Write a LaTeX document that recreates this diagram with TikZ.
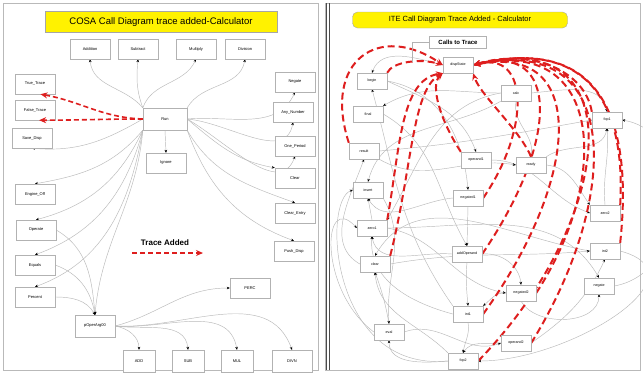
\documentclass[tikz,border=0pt]{standalone}
\usepackage{fontspec}
\setmainfont{Liberation Sans}
\usetikzlibrary{arrows.meta,backgrounds}
\definecolor{tracered}{RGB}{222,30,30}
\definecolor{titleyellow}{RGB}{255,242,0}

\begin{document}
\begin{tikzpicture}[x=1pt,y=-1pt,
    callbox/.style={draw=gray!60,fill=white,minimum width=40pt,minimum height=20pt,inner sep=1pt,font=\fontsize{4}{5}\selectfont},
    itebox/.style={draw=gray!60,fill=white,minimum width=30pt,minimum height=16pt,inner sep=1pt,font=\fontsize{3.6}{4.5}\selectfont},
    calledge/.style={draw=gray!55,line width=.45pt,-{Stealth[length=3pt,width=2.6pt,color=black]}},
    traceedge/.style={draw=tracered,line width=1.6pt,dash pattern=on 5pt off 3pt,-{Stealth[length=7pt,width=6pt]}},
    tracelong/.style={traceedge,line width=2pt,dash pattern=on 7pt off 4pt}]
\useasboundingbox (0,0) rectangle (643,373);

% panels
\begin{scope}[on background layer]
\draw[gray!55,line width=1pt,fill=white] (3,3) rectangle (318,370);
\draw[gray!55,line width=1pt,fill=white] (325,3) rectangle (640,370);
\draw[black!70,line width=.8pt] (326,3) -- (326,370);
\draw[black!70,line width=.8pt] (329,3) -- (329,370);
\end{scope}

%%% COSA call diagram
\node[draw=gray!70,fill=titleyellow,minimum width=232pt,minimum height=21pt,font=\fontsize{9.5}{11}\selectfont] (cosatitle) at (161,22) {COSA Call Diagram trace added-Calculator};

\node[callbox] (addition) at (90,49) {Addition};
\node[callbox] (subtract) at (138,49) {Subtract};
\node[callbox] (multiply) at (196,49) {Multiply};
\node[callbox] (division) at (245,49) {Division};
\node[callbox] (truetrace) at (35,84) {True\_Trace};
\node[callbox] (falsetrace) at (35,110) {False\_Trace};
\node[callbox] (negate) at (295,82) {Negate};
\node[callbox] (anynumber) at (293,112) {Any\_Number};
\node[callbox,minimum width=44pt,minimum height=22pt] (run) at (165,119) {Run};
\node[callbox] (savedisp) at (32,138) {Save\_Disp};
\node[callbox] (ignore) at (166,163) {Ignore};
\node[callbox] (oneperiod) at (295,146) {One\_Period};
\node[callbox] (clear) at (295,178) {Clear};
\node[callbox] (engineoff) at (35,194) {Engine\_Off};
\node[callbox] (clearentry) at (295,213) {Clear\_Entry};
\node[callbox] (operate) at (36,230) {Operate};
\node[callbox] (pushdisp) at (294,251) {Push\_Disp};
\node[callbox] (equals) at (35,265) {Equals};
\node[callbox] (percent) at (35,297) {Percent};
\node[callbox] (perc) at (250,288) {PERC};
\node[callbox,minimum height=22pt] (poper) at (95,326) {pOperArg00};
\node[callbox,minimum width=32pt,minimum height=22pt] (add) at (139,361) {ADD};
\node[callbox,minimum width=32pt,minimum height=22pt] (sub) at (188,361) {SUB};
\node[callbox,minimum width=32pt,minimum height=22pt] (mul) at (237,361) {MUL};
\node[callbox,minimum height=22pt] (divn) at (292,361) {DIVN};

\node[font=\fontsize{8}{9}\selectfont\bfseries] (legend) at (165,243) {Trace Added};
\coordinate (lega) at (132,253);
\coordinate (legb) at (203,253);
\draw[traceedge] (lega) -- (legb);

\begin{scope}[on background layer]
\draw[calledge] (run.north west) to[out=130,in=-85] (addition.south);
\draw[calledge] (run.north west) to[out=110,in=-95] (subtract.south);
\draw[calledge] (run.north west) to[out=70,in=-115] (multiply.south);
\draw[calledge] (run.north east) to[out=60,in=-100] (division.south);
\draw[calledge] (run.east) to[out=5,in=-115] (negate.south);
\draw[calledge] (run.east) to[out=-5,in=-100] (anynumber.south);
\draw[calledge] (run.east) to[out=-30,in=-110] (oneperiod.south);
\draw[calledge] (run.east) to[out=-40,in=170] (clear.north west);
\draw[calledge] (run.south east) to[out=-60,in=160] (clearentry.north);
\draw[calledge] (run.south east) to[out=-70,in=160] (pushdisp.north);
\draw[calledge] (run.south) -- (ignore.north);
\draw[calledge] (run.west) to[out=-150,in=-5] (savedisp.south);
\draw[calledge] (run.south west) to[out=-130,in=10] (engineoff.north);
\draw[calledge] (run.south west) to[out=-115,in=15] (operate.north);
\draw[calledge] (run.south west) to[out=-105,in=20] (equals.north);
\draw[calledge] (run.south west) to[out=-100,in=20] (percent.north);
\draw[calledge] (run.south west) to[out=-95,in=85] (poper.north);
\draw[calledge] (operate.east) to[out=-30,in=95] (poper.north);
\draw[calledge] (equals.east) to[out=-20,in=100] (poper.north);
\draw[calledge] (percent.east) to[out=0,in=120] (poper.north);
\draw[calledge] (poper.east) to[out=15,in=180] (perc.west);
\draw[calledge] (poper.east) to[out=-10,in=90] (add.north);
\draw[calledge] (poper.east) to[out=-8,in=95] (sub.north);
\draw[calledge] (poper.east) to[out=-5,in=100] (mul.north);
\draw[calledge] (poper.east) to[out=-3,in=110] (divn.north);
\end{scope}
\draw[traceedge] (run.west) to[out=178,in=-10] (truetrace.-62);
\draw[traceedge] (run.west) to[out=180,in=0] (falsetrace.-68);

%%% ITE call diagram
\node[draw=gray!70,fill=titleyellow,rounded corners=5pt,minimum width=215pt,minimum height=16pt,font=\fontsize{7.5}{9}\selectfont] (itetitle) at (460,20) {ITE Call Diagram Trace Added - Calculator};
\node[draw=gray!60,fill=white,minimum width=57pt,minimum height=12pt,font=\fontsize{6}{7}\selectfont\bfseries] (calls) at (458,42) {Calls to Trace};
\coordinate (callpt) at (412,62);
\draw[gray!60] (calls.west) -| (callpt);

\node[itebox] (dispstate) at (458,65) {dispState};
\node[itebox] (begin) at (372,81) {begin};
\node[itebox] (final) at (368,114) {final};
\node[itebox] (calc) at (516,93) {calc};
\node[itebox] (fopone) at (607,120) {fop1};
\node[itebox] (result) at (364,151) {result};
\node[itebox] (operandone) at (476,160) {operand1};
\node[itebox] (ready) at (531,165) {ready};
\node[itebox] (insert) at (368,190) {insert};
\node[itebox] (negatedone) at (468,198) {negated1};
\node[itebox] (zeroone) at (372,228) {zero1};
\node[itebox] (zerotwo) at (605,213) {zero2};
\node[itebox] (addoperand) at (467,254) {addOperand};
\node[itebox] (inttwo) at (605,251) {int2};
\node[itebox] (iclear) at (375,264) {clear};
\node[itebox] (inegate) at (599,286) {negate};
\node[itebox] (negatedtwo) at (521,293) {negated2};
\node[itebox] (intone) at (468,314) {int1};
\node[itebox] (eval) at (389,332) {eval};
\node[itebox] (operandtwo) at (516,343) {operand2};
\node[itebox] (foptwo) at (463,361) {fop2};

\begin{scope}[on background layer]
\draw[calledge] (dispstate.west) to[out=165,in=70] (begin.north);
\draw[calledge] (calc.west) to[out=180,in=30] (final.north east);
\draw[calledge] (begin.east) to[out=-10,in=95] (negatedone.north);
\draw[calledge] (intone.north west) to[out=125,in=-75] (begin.south);
\draw[calledge] (iclear.west) to[out=150,in=-110] (result.south);
\draw[calledge] (result.east) to[out=5,in=190] (fopone.west);
\draw[calledge] (calc.south west) to[out=210,in=75] (insert.north);
\draw[calledge] (negatedone.west) to[out=185,in=-60] (insert.south);
\draw[calledge] (zeroone.north) -- (insert.south);
\draw[calledge] (addoperand.west) to[out=175,in=-80] (zeroone.south);
\draw[calledge] (intone.west) to[out=165,in=-95] (zeroone.south);
\draw[calledge] (inttwo.west) to[out=170,in=60] (iclear.north);
\draw[calledge] (eval.north) to[out=100,in=-70] (iclear.south);
\draw[calledge] (foptwo.north west) to[out=135,in=-85] (iclear.south);
\draw[calledge] (insert.south east) to[out=-60,in=95] (eval.north);
\draw[calledge] (foptwo.west) to[out=185,in=-90] (eval.south);
\draw[calledge] (negatedone.south) -- (addoperand.north);
\draw[calledge] (addoperand.south) to[out=-95,in=95] (intone.north);
\draw[calledge] (addoperand.east) to[out=5,in=95] (negatedtwo.north);
\draw[calledge] (negatedtwo.west) to[out=175,in=40] (intone.north east);
\draw[calledge] (intone.south) to[out=-80,in=80] (foptwo.north);
\draw[calledge] (operandtwo.west) to[out=185,in=55] (foptwo.north);
\draw[calledge] (inttwo.east) to[out=-15,in=0,looseness=1.3] (foptwo.east);
\draw[calledge] (operandtwo.east) to[out=35,in=-115] (inttwo.south);
\draw[calledge] (zeroone.east) to[out=0,in=120] (inegate.north);
\draw[calledge] (negatedtwo.south) to[out=-60,in=-90] (inegate.south);
\draw[calledge] (ready.east) to[out=-5,in=125] (zerotwo.north west);
\draw[calledge] (zerotwo.north) to[out=95,in=-85] (fopone.south);
\draw[calledge] (ready.north east) to[out=35,in=-100] (fopone.south);
\draw[calledge] (calc.east) to[out=5,in=100] (fopone.north);
\draw[calledge] (calc.south) to[out=-100,in=80] (ready.north);
\draw[calledge] (begin.east) to[out=-25,in=110] (operandone.north);
\draw[calledge] (final.east) to[out=-30,in=120] (addoperand.north);
\draw[calledge] (eval.west) .. controls (318,290) and (322,190) .. (zeroone.west);
\draw[calledge] (foptwo.west) .. controls (330,372) and (322,200) .. (insert.west);
\draw[calledge] (inegate.east) to[out=10,in=-10,looseness=1.2] (fopone.east);
\draw[calledge] (operandone.east) to[out=0,in=160] (zerotwo.west);
\draw[calledge] (result.south east) to[out=-30,in=170] (ready.west);
\draw[calledge] (iclear.east) to[out=10,in=185] (inttwo.west);
\draw[calledge] (eval.east) to[out=20,in=200] (operandtwo.west);
\draw[calledge] (zeroone.east) to[out=-10,in=170] (negatedtwo.west);
\draw[calledge] (calc.west) to[out=190,in=60] (zeroone.north east);

\draw[tracelong] (result.north west) .. controls (322,60) and (380,22) .. (dispstate.west);
\draw[tracelong] (begin.north east) .. controls (392,62) and (420,58) .. (dispstate.west);
\draw[tracelong] (zeroone.north east) .. controls (400,150) and (400,80) .. (dispstate.south west);
\draw[tracelong] (iclear.north east) .. controls (412,170) and (412,90) .. (dispstate.south west);
\draw[tracelong] (operandone.north west) .. controls (440,120) and (430,85) .. (dispstate.south west);
\draw[tracelong] (ready.north) .. controls (520,130) and (480,95) .. (dispstate.south east);
\draw[tracelong] (negatedone.east) .. controls (530,130) and (530,50) .. (dispstate.east);
\draw[tracelong] (addoperand.east) .. controls (560,140) and (560,42) .. (dispstate.east);
\draw[tracelong] (intone.east) .. controls (580,180) and (590,42) .. (dispstate.east);
\draw[tracelong] (negatedtwo.east) .. controls (610,180) and (605,36) .. (dispstate.east);
\draw[tracelong] (operandtwo.east) .. controls (620,200) and (625,32) .. (dispstate.east);
\draw[tracelong] (foptwo.east) .. controls (615,220) and (636,24) .. (dispstate.east);
\draw[tracelong] (inttwo.north east) .. controls (630,150) and (620,30) .. (dispstate.east);
\draw[tracelong] (zerotwo.north east) .. controls (625,120) and (600,35) .. (dispstate.east);
\draw[tracelong] (fopone.north west) .. controls (585,70) and (530,48) .. (dispstate.east);
\end{scope}
\end{tikzpicture}
\end{document}
